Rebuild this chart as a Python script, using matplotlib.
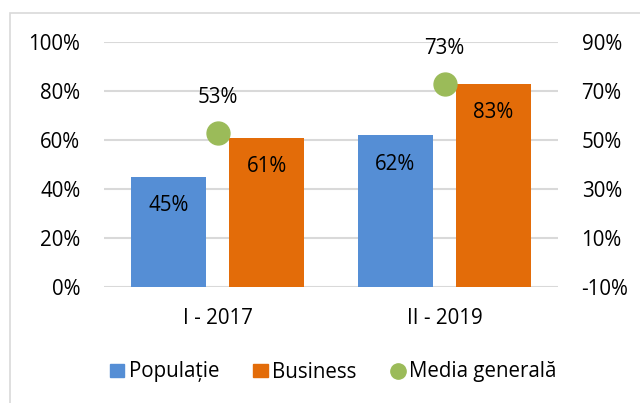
import matplotlib
matplotlib.use('Agg')
import matplotlib.pyplot as plt
from matplotlib.patches import Rectangle
from matplotlib.lines import Line2D

# Data
categories = ['I - 2017', 'II - 2019']
populatie = [45, 62]
business = [61, 83]
media = [53, 73]
series_names = ['Populație', 'Business', 'Media generală']

BLUE = '#558ED5'
ORANGE = '#E36C09'
GREEN = '#9BBB59'
GRID = '#D9D9D9'
TXT = '#000000'

plt.rcParams['font.family'] = ['Open Sans', 'DejaVu Sans']
FS = 14.8

fig = plt.figure(figsize=(6.4, 4.03), dpi=100)
W, H = 640, 403

# chart border
fig.patches.append(Rectangle((10 / W, -0.1), 1.2, 1 - 13 / H + 0.1, transform=fig.transFigure,
                             fill=False, edgecolor=GRID, linewidth=1.2))

ax = fig.add_axes([104 / W, (H - 287) / H, 454 / W, 245 / H])
ax2 = ax.twinx()

x = range(len(categories))
bw = 0.33
off = 0.216
xp = [i - off for i in x]
xb = [i + off for i in x]
ax.bar(xp, populatie, width=bw, color=BLUE, zorder=3)
ax.bar(xb, business, width=bw, color=ORANGE, zorder=3)

for xi, v in zip(xp, populatie):
    ax.annotate(f'{v}%', (xi, v), xytext=(0, -21), textcoords='offset points',
                ha='center', va='center', fontsize=FS, color=TXT, zorder=4)
for xi, v in zip(xb, business):
    ax.annotate(f'{v}%', (xi, v), xytext=(0, -21), textcoords='offset points',
                ha='center', va='center', fontsize=FS, color=TXT, zorder=4)

ax.set_xlim(-0.5, 1.5)
ax.set_ylim(0, 100)
ax.set_yticks(range(0, 101, 20))
ax.set_yticklabels([f'{t}%' for t in range(0, 101, 20)])
ax.set_xticks(list(x))
ax.set_xticklabels(categories)
ax.yaxis.grid(True, color=GRID, linewidth=1.5, zorder=0)
ax.set_axisbelow(True)

ax2.plot(list(x), media, 'o', color=GREEN, markersize=16.5, zorder=5)
for xi, v in zip(x, media):
    ax2.annotate(f'{v}%', (xi, v), xytext=(0, 25), textcoords='offset points',
                 ha='center', va='center', fontsize=FS, color=TXT)
ax2.set_ylim(-10, 90)
ax2.set_yticks(range(-10, 91, 20))
ax2.set_yticklabels([f'{t}%' for t in range(-10, 91, 20)])

for a in (ax, ax2):
    for s in a.spines.values():
        s.set_visible(False)
    a.tick_params(length=0, labelsize=FS, colors=TXT)
ax.tick_params(axis='y', pad=17)
ax2.tick_params(axis='y', pad=17)
ax.tick_params(axis='x', pad=15)

handles = [Rectangle((0, 0), 1, 1, color=BLUE), Rectangle((0, 0), 1, 1, color=ORANGE),
           Line2D([], [], marker='o', linestyle='none', color=GREEN, markersize=11)]
fig.legend(handles, series_names, loc='center', bbox_to_anchor=(333 / W, (H - 372) / H),
           ncol=3, frameon=False, fontsize=FS, handlelength=0.72, handleheight=0.6,
           handletextpad=0.2, columnspacing=1.65)

fig.savefig('out.png', dpi=100, facecolor='white')
